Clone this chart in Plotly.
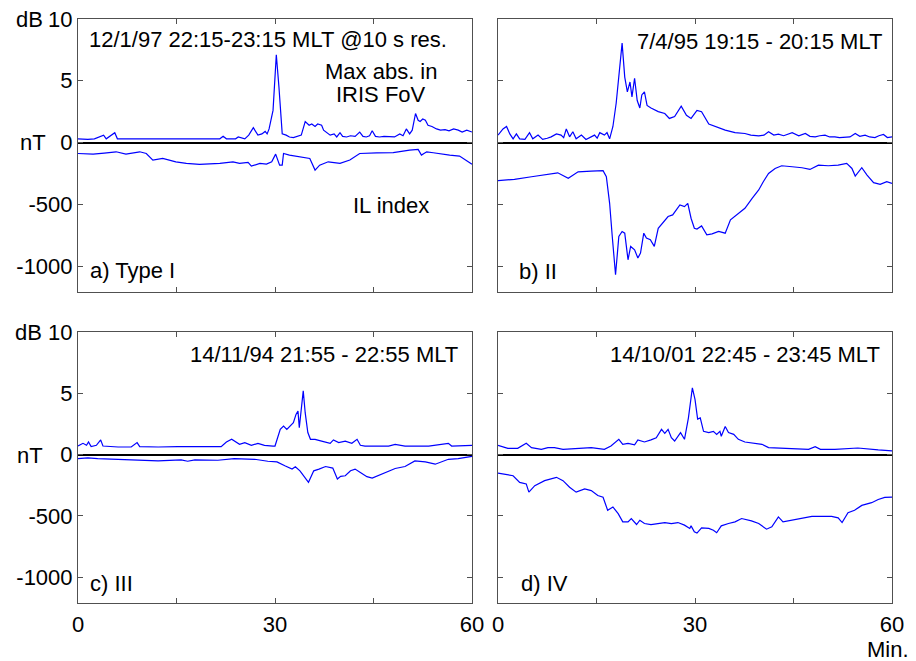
import plotly.graph_objects as go

# The page body has an 8 px margin; the figure is sized so it fills the window.
PAGE_W, PAGE_H = 916, 661
OFF = 8
W, H = PAGE_W - OFF, PAGE_H - OFF

# ---------------- data (minutes, dB in nT, IL index in nT) ----------------
a_db_t = [0, 1.5, 2.5, 3.9, 4.3, 5.6, 6.0, 8, 10, 12, 14, 16, 18, 20, 21.6, 22.1, 22.6, 24.0, 24.4, 25.4, 26.0, 26.7, 27.4, 28.0, 28.5, 28.8, 29.1, 29.7, 30.2, 30.6, 31.1, 31.7, 32.2, 32.8, 33.5, 34.0, 34.6, 35.2, 35.6, 36.1, 36.5, 37.1, 37.4, 38.0, 38.4, 39.0, 39.4, 39.9, 40.3, 40.9, 41.5, 42.2, 42.9, 43.4, 43.9, 44.4, 44.8, 45.3, 45.9, 46.6, 47.4, 48.2, 49.0, 49.5, 50.0, 50.5, 50.9, 51.4, 51.8, 52.1, 52.5, 52.9, 53.3, 53.9, 54.6, 55.2, 55.9, 56.5, 57.2, 57.9, 58.5, 59.2, 60]
a_db_v = [0.3, 0.25, 0.3, 0.6, 0.3, 0.8, 0.3, 0.3, 0.25, 0.3, 0.28, 0.25, 0.25, 0.28, 0.3, 0.5, 0.3, 0.3, 0.45, 0.3, 0.6, 1.2, 0.6, 0.7, 0.9, 0.7, 1.1, 2.6, 7.1, 4.5, 0.7, 0.6, 0.45, 0.4, 0.5, 0.6, 1.7, 1.4, 1.5, 1.3, 1.5, 1.4, 1.0, 0.8, 0.6, 0.7, 0.45, 0.8, 0.5, 0.45, 0.55, 0.5, 0.85, 0.5, 0.45, 0.55, 0.95, 0.5, 0.45, 0.5, 0.5, 0.45, 0.7, 0.55, 1.1, 0.7, 1.0, 2.35, 1.8, 1.7, 1.9, 1.8, 1.4, 1.3, 1.1, 1.0, 1.05, 0.95, 1.1, 1.0, 0.85, 1.0, 0.85]
a_il_t = [0, 2.3, 4, 5.8, 7.3, 9.4, 10.4, 11.4, 12.9, 14.9, 16.5, 18.5, 21.6, 23.6, 24.6, 25.9, 26.4, 27.7, 28.7, 29.5, 30.1, 30.7, 31.1, 31.3, 32.2, 33.8, 35.3, 36.1, 36.8, 38.1, 39.9, 41.4, 42.9, 45.5, 48.0, 50.5, 51.8, 52.3, 53.1, 54.1, 55.2, 56.6, 58.1, 59.0, 60]
a_il_v = [-89, -94, -85, -75, -94, -75, -89, -142, -129, -156, -169, -177, -169, -156, -169, -161, -191, -169, -175, -156, -94, -183, -183, -89, -102, -116, -129, -223, -183, -156, -169, -142, -89, -83, -81, -62, -56, -102, -75, -83, -94, -102, -110, -142, -175]

b_db_t = [0, 0.76, 1.3, 1.8, 2.3, 2.8, 3.3, 4.1, 4.8, 5.3, 6.1, 6.8, 7.5, 8.1, 8.9, 9.6, 10.0, 10.4, 10.9, 11.4, 11.9, 12.7, 13.4, 14.0, 14.7, 15.1, 15.5, 16.2, 16.6, 17.0, 17.5, 18.0, 18.5, 18.9, 19.3, 19.7, 20.1, 20.4, 20.8, 21.2, 21.6, 21.9, 22.3, 22.7, 23.3, 24.4, 25.4, 26.1, 26.9, 27.9, 28.7, 29.4, 30.3, 31.0, 32.1, 33.1, 34.6, 36.1, 37.6, 38.5, 39.7, 40.5, 41.2, 42.0, 42.7, 43.5, 44.8, 45.8, 46.8, 47.5, 48.3, 49.0, 49.8, 50.5, 51.3, 52.0, 52.9, 53.6, 54.4, 55.1, 55.9, 56.6, 57.4, 58.0, 58.7, 59.3, 60]
b_db_v = [0.6, 1.1, 1.3, 0.7, 0.3, 0.7, 0.3, 0.25, 0.8, 0.3, 0.6, 0.25, 0.35, 0.46, 0.7, 0.6, 0.4, 1.1, 0.46, 0.87, 0.3, 0.6, 0.25, 0.4, 0.6, 0.35, 0.8, 0.6, 0.8, 0.3, 1.3, 3.2, 5.9, 8.05, 5.3, 4.1, 4.9, 3.7, 5.2, 3.4, 2.8, 3.85, 4.1, 3.0, 2.8, 2.5, 2.35, 1.95, 2.1, 2.95, 2.2, 1.95, 2.6, 2.5, 1.5, 1.3, 1.0, 0.8, 0.73, 0.6, 0.54, 0.6, 0.87, 0.6, 0.68, 0.55, 0.8, 0.54, 0.73, 0.5, 0.46, 0.55, 0.6, 0.45, 0.46, 0.4, 0.46, 0.45, 0.73, 0.5, 0.6, 0.45, 0.4, 0.55, 0.65, 0.4, 0.46]
b_il_t = [0, 2.5, 5.1, 7.6, 9.1, 10.7, 12.2, 14.2, 16.0, 16.5, 17.0, 17.4, 17.9, 18.4, 18.9, 19.3, 19.8, 20.2, 20.8, 21.3, 21.7, 22.2, 22.6, 23.2, 23.8, 24.4, 25.1, 25.9, 26.6, 27.7, 28.4, 28.9, 29.4, 29.9, 30.3, 31.0, 31.8, 32.6, 33.6, 34.6, 35.4, 36.4, 37.6, 38.7, 39.7, 40.4, 41.2, 42.2, 43.2, 44.8, 46.3, 47.5, 48.8, 50.3, 51.8, 53.1, 53.9, 54.4, 55.4, 56.2, 57.2, 58.2, 59.2, 60]
b_il_v = [-309, -298, -277, -255, -245, -290, -237, -231, -228, -277, -492, -761, -1070, -761, -720, -734, -949, -841, -868, -935, -895, -734, -774, -787, -841, -694, -653, -599, -586, -505, -519, -492, -613, -694, -700, -675, -747, -739, -720, -734, -626, -586, -532, -452, -384, -317, -250, -210, -188, -196, -204, -218, -183, -188, -183, -169, -210, -271, -204, -263, -325, -339, -317, -331]

c_db_t = [0, 0.76, 1.3, 1.6, 2.0, 2.8, 3.45, 3.8, 6.1, 8.1, 9.0, 9.4, 12.2, 15.2, 21.8, 22.6, 23.4, 24.1, 24.6, 25.4, 26.4, 27.4, 28.4, 29.7, 30.0, 30.8, 31.3, 31.8, 32.3, 32.8, 33.2, 33.5, 33.7, 34.0, 34.3, 34.6, 35.0, 35.4, 36.1, 37.1, 38.4, 38.9, 39.7, 40.7, 41.7, 42.5, 43.0, 43.7, 47.3, 48.3, 49.8, 53.4, 56.4, 56.9, 60]
c_db_v = [0.7, 0.92, 0.76, 1.03, 0.65, 0.76, 1.2, 0.7, 0.62, 0.62, 0.98, 0.65, 0.62, 0.65, 0.65, 1.03, 1.25, 1.03, 0.84, 0.98, 0.76, 0.92, 0.76, 0.7, 0.7, 2.06, 2.33, 2.06, 2.33, 2.6, 3.28, 3.55, 2.2, 3.7, 5.2, 3.4, 1.8, 1.25, 1.25, 1.1, 0.92, 1.2, 0.98, 1.1, 0.92, 1.25, 0.76, 0.7, 0.7, 0.84, 0.7, 0.7, 0.92, 0.7, 0.76]
c_il_t = [0, 1.5, 3.0, 6.1, 10.1, 12.2, 15.7, 16.7, 17.8, 21.3, 23.8, 26.9, 28.9, 30.3, 31.5, 32.6, 33.1, 33.8, 35.1, 35.9, 36.7, 37.7, 38.8, 39.5, 40.0, 40.7, 41.5, 42.2, 43.0, 44.0, 44.8, 46.3, 48.3, 49.8, 51.3, 52.9, 54.4, 56.4, 57.9, 60]
c_il_v = [-32, -27, -32, -38, -51, -51, -43, -54, -43, -46, -32, -38, -54, -59, -91, -118, -99, -132, -226, -132, -118, -97, -110, -199, -177, -172, -132, -118, -145, -180, -191, -159, -113, -97, -51, -59, -78, -38, -32, -15]

d_db_t = [0, 1.5, 3.0, 4.3, 5.1, 6.6, 7.6, 8.6, 9.9, 12.7, 14.2, 16.2, 17.2, 18.4, 19.0, 19.8, 20.8, 21.3, 22.3, 23.3, 24.1, 24.9, 25.4, 25.9, 26.4, 26.9, 27.8, 28.4, 29.0, 29.6, 30.0, 30.4, 30.8, 31.3, 32.1, 32.8, 33.3, 33.8, 34.0, 34.6, 35.1, 35.9, 36.6, 37.6, 40.2, 41.2, 43.8, 47.3, 48.3, 49.1, 51.3, 54.8, 57.9, 60]
d_db_v = [0.76, 0.51, 0.51, 0.92, 0.57, 0.43, 0.57, 0.57, 0.43, 0.49, 0.57, 0.43, 0.7, 1.25, 0.84, 0.92, 0.8, 1.2, 1.03, 1.2, 1.38, 2.06, 1.73, 2.06, 1.38, 1.11, 1.79, 1.25, 3.0, 5.45, 4.5, 2.9, 3.0, 1.9, 1.8, 1.9, 1.65, 1.9, 1.5, 2.3, 1.8, 1.65, 1.25, 1.03, 0.84, 0.57, 0.49, 0.43, 0.65, 0.43, 0.43, 0.54, 0.38, 0.3]
d_il_t = [0, 2.3, 3.3, 4.3, 4.7, 5.6, 7.1, 8.9, 9.9, 10.9, 11.9, 13.2, 14.2, 15.2, 16.0, 16.7, 17.5, 18.3, 19.0, 19.8, 20.3, 21.1, 21.6, 22.3, 23.3, 24.4, 25.4, 26.4, 27.4, 28.4, 29.2, 29.4, 29.9, 30.3, 31.0, 32.1, 32.8, 33.3, 34.0, 35.1, 36.1, 37.1, 38.6, 39.7, 40.9, 41.7, 42.7, 43.4, 44.7, 45.7, 46.8, 47.8, 50.8, 51.8, 52.4, 53.3, 54.3, 55.4, 56.9, 57.9, 58.9, 60]
d_il_v = [-150, -172, -226, -239, -306, -253, -212, -185, -212, -266, -306, -280, -293, -333, -347, -454, -427, -481, -548, -548, -521, -570, -535, -562, -570, -562, -554, -562, -554, -575, -602, -581, -629, -640, -597, -602, -616, -637, -581, -562, -548, -521, -540, -562, -608, -589, -508, -548, -535, -521, -516, -503, -503, -516, -554, -473, -454, -414, -392, -366, -349, -347]

panel_titles = ["12/1/97 22:15-23:15 MLT @10 s res.", "7/4/95 19:15 - 20:15 MLT",
                "14/11/94 21:55 - 22:55 MLT", "14/10/01 22:45 - 23:45 MLT"]
panel_labels = ["a) Type I", "b) II", "c) III", "d) IV"]
y_tickvals = [1000, 500, 0, -500, -1000]
y_ticktext = ["10", "5", "0", "-500", "-1000"]
x_tickvals = [0, 15, 30, 45, 60]
x_ticktext = ["0", "", "30", "", "60"]

IL_RANGE = [-1210, 1000]
DB_PER_NT = 10 / 1000.0
DB_RANGE = [IL_RANGE[0] * DB_PER_NT, IL_RANGE[1] * DB_PER_NT]

FONT = "Liberation Sans, Arial, sans-serif"
FS = 22
BLUE = "#0000ff"
FRAME = "#505050"

def px(x):
    # page pixel -> paper fraction
    return (x - OFF) / W

def py(y):
    return 1 - (y - OFF) / H

# panel domains (page pixels)
xdoms = [(78, 472), (498, 892), (78, 472), (498, 892)]
ydoms = [(19, 292), (19, 292), (332, 603), (332, 603)]

series = [(a_db_t, a_db_v, a_il_t, a_il_v), (b_db_t, b_db_v, b_il_t, b_il_v),
          (c_db_t, c_db_v, c_il_t, c_il_v), (d_db_t, d_db_v, d_il_t, d_il_v)]

fig = go.Figure()
layout = dict(width=W, height=H, margin=dict(l=0, r=0, t=0, b=0, autoexpand=False),
              paper_bgcolor="white", plot_bgcolor="white", showlegend=False,
              font=dict(family=FONT, size=FS, color="black"))

for i in range(4):
    n = i + 1
    xs = "" if n == 1 else str(n)
    ys = "" if n == 1 else str(n)
    dbn = n + 4
    dbt, dbv, ilt, ilv = series[i]
    fig.add_trace(go.Scatter(x=ilt, y=ilv, mode="lines", line=dict(color=BLUE, width=1.2),
                             xaxis="x" + xs, yaxis="y" + ys, hoverinfo="skip"))
    fig.add_trace(go.Scatter(x=dbt, y=dbv, mode="lines", line=dict(color=BLUE, width=1.2),
                             xaxis="x" + xs, yaxis="y" + str(dbn), hoverinfo="skip"))
    left = i in (0, 2)
    bottom = i in (2, 3)
    layout["xaxis" + xs] = dict(
        domain=[px(xdoms[i][0]), px(xdoms[i][1])], anchor="y" + ys, range=[0, 60],
        tickvals=x_tickvals, ticktext=x_ticktext if bottom else [""] * 5,
        showticklabels=bottom, ticks="inside", ticklen=5, tickcolor=FRAME,
        showline=True, linecolor=FRAME, linewidth=1, mirror="ticks",
        showgrid=False, zeroline=False, tickfont=dict(size=FS, color="black"),
        ticklabelstandoff=2, automargin=False, ticklabeloverflow="allow")
    layout["yaxis" + ys] = dict(
        domain=[py(ydoms[i][1]), py(ydoms[i][0])], anchor="x" + xs, range=IL_RANGE,
        tickvals=y_tickvals, ticktext=y_ticktext, showticklabels=left,
        ticks="inside", ticklen=5, tickcolor=FRAME,
        showline=True, linecolor=FRAME, linewidth=1, mirror="ticks",
        showgrid=False, zeroline=True, zerolinecolor="black", zerolinewidth=1.5,
        tickfont=dict(size=FS, color="black"), automargin=False,
        ticklabeloverflow="allow")
    layout["yaxis" + str(dbn)] = dict(
        overlaying="y" + ys, anchor="x" + xs, range=DB_RANGE, visible=False,
        showgrid=False, zeroline=False, automargin=False)

annotations = []

def ann(text, x, y, xanchor="center", yanchor="middle", size=FS):
    annotations.append(dict(text=text, x=px(x), y=py(y), xref="paper", yref="paper",
                            xanchor=xanchor, yanchor=yanchor, showarrow=False,
                            font=dict(family=FONT, size=size, color="black")))

ann(panel_titles[0], 87, 39, xanchor="left")
ann(panel_titles[1], 884, 41, xanchor="right")
ann(panel_titles[2], 460, 354, xanchor="right")
ann(panel_titles[3], 882, 354, xanchor="right")
ann("Max abs. in", 381, 71)
ann("IRIS FoV", 381, 94)
ann("IL index", 391, 205)
ann(panel_labels[0], 88, 270, xanchor="left")
ann(panel_labels[1], 517, 271, xanchor="left")
ann(panel_labels[2], 88, 583, xanchor="left")
ann(panel_labels[3], 519, 583, xanchor="left")
ann("dB", 45, 20, xanchor="right")
ann("nT", 48, 142, xanchor="right")
ann("dB", 44, 333, xanchor="right")
ann("nT", 45, 455, xanchor="right")
ann("Min.", 911, 649, xanchor="right")

layout["annotations"] = annotations
fig.update_layout(**layout)
fig.write_html("out.html")
